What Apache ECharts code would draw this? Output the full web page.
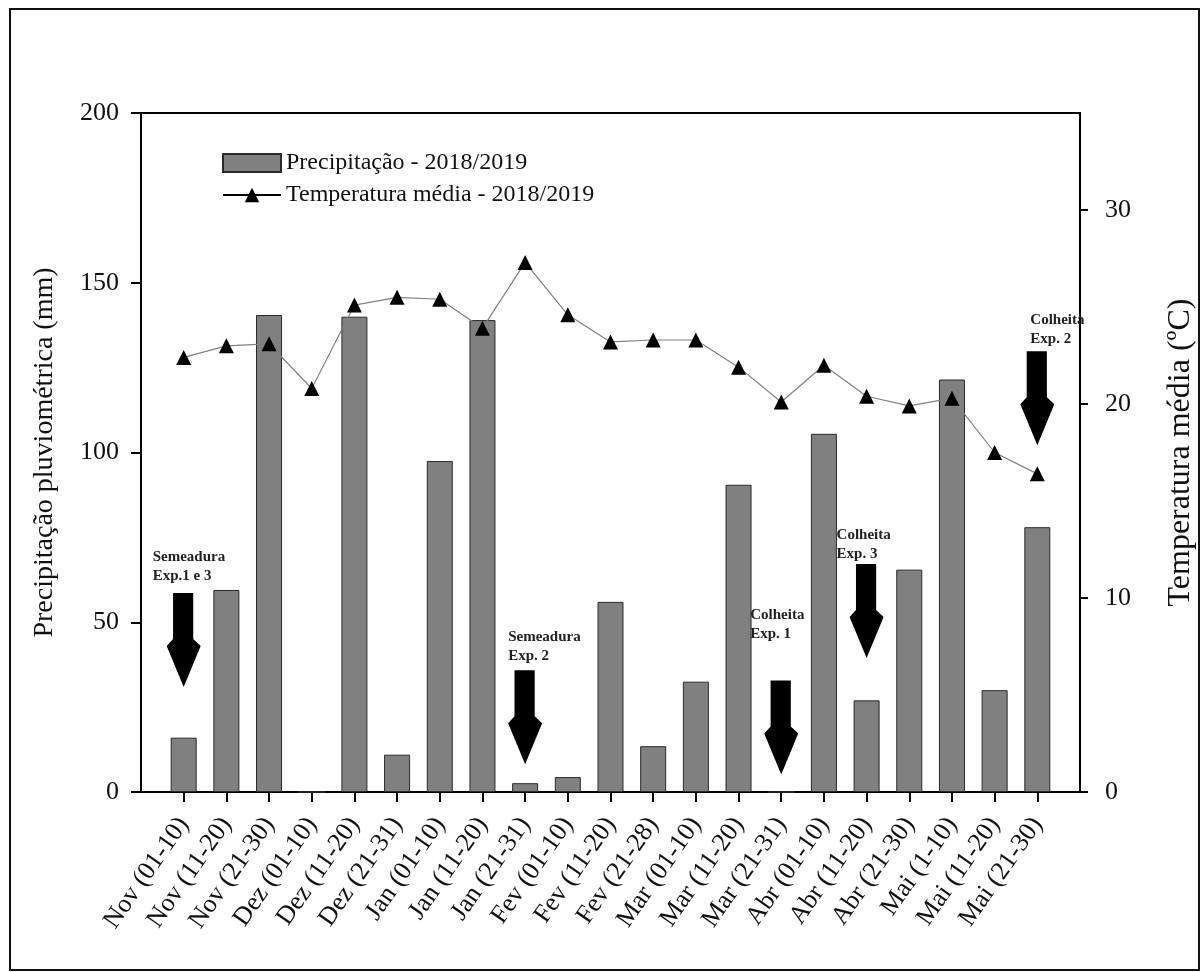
<!DOCTYPE html>
<html>
<head>
<meta charset="utf-8">
<script src="https://cdn.jsdelivr.net/npm/echarts@6/dist/echarts.min.js"></script>
<style>
html,body{margin:0;padding:0;background:#fff;}
#c{width:1201px;height:972px;}
</style>
</head>
<body>
<div id="c"></div>
<script>
const categories = ['Nov (01-10)','Nov (11-20)','Nov (21-30)','Dez (01-10)','Dez (11-20)','Dez (21-31)','Jan (01-10)','Jan (11-20)','Jan (21-31)','Fev (01-10)','Fev (11-20)','Fev (21-28)','Mar (01-10)','Mar (11-20)','Mar (21-31)','Abr (01-10)','Abr (11-20)','Abr (21-30)','Mai (1-10)','Mai (11-20)','Mai (21-30)'];
const precipitacao = [16, 59.5, 140.5, 0, 140, 11, 97.5, 139, 2.6, 4.4, 56, 13.5, 32.5, 90.5, 0, 105.5, 27, 65.5, 121.5, 30, 78];
const temperatura = [22.4, 23.0, 23.1, 20.8, 25.1, 25.5, 25.4, 23.9, 27.3, 24.6, 23.2, 23.3, 23.3, 21.9, 20.1, 22.0, 20.4, 19.9, 20.3, 17.5, 16.4];
const precipTicks = [0, 50, 100, 150, 200];
const tempTicks = [0, 10, 20, 30];
const annotCategory = ['Nov (01-10)', 'Jan (21-31)', 'Mar (21-31)', 'Abr (11-20)', 'Mai (21-30)'];
const annotText = ['Semeadura\nExp.1 e 3', 'Semeadura\nExp. 2', 'Colheita\nExp. 1', 'Colheita\nExp. 3', 'Colheita\nExp. 2'];
const annotLevel = [44.8, 22, 19, 53.3, 116];
const annotLabelPos = [[-14, -45], [0, -43], [-14, -75], [-13, -38], [10, -41]];

const axisCats = [''].concat(categories, ['']);
const precipData = [null].concat(precipitacao, [null]);
const tempData = [null].concat(temperatura, [null]);
const serif = 'Liberation Serif';
const arrowPath = 'path://M7,0 L26,0 L26,46 L33,53 L17,94 L1,53 L7,46 Z';

const chart = echarts.init(document.getElementById('c'));
chart.setOption({
  animation: false,
  backgroundColor: '#fff',
  textStyle: { fontFamily: serif },
  graphic: [{
    type: 'rect', shape: { x: 10, y: 9, width: 1189, height: 961 },
    style: { fill: 'none', stroke: '#111', lineWidth: 2 }, silent: true
  }],
  grid: { left: 141, right: 121, top: 113, bottom: 180, containLabel: false, outerBoundsMode: 'none', show: true, borderColor: '#000', borderWidth: 2, backgroundColor: 'transparent' },
  legend: {
    orient: 'vertical', left: 222, top: 151, padding: 0, itemWidth: 58, itemHeight: 18, itemGap: 8,
    textStyle: { fontFamily: serif, fontSize: 24, color: '#111' },
    data: [
      { name: 'Precipitação - 2018/2019', icon: 'rect' },
      { name: 'Temperatura média - 2018/2019', itemStyle: { color: '#000' }, lineStyle: { color: '#000', width: 2 } }
    ]
  },
  xAxis: {
    type: 'category', data: axisCats, boundaryGap: false,
    axisLine: { lineStyle: { color: '#000', width: 2 } },
    axisTick: { show: true, length: 10, lineStyle: { color: '#000', width: 2 }, interval: function (i, v) { return v !== ''; } },
    axisLabel: { interval: 0, rotate: 55, fontFamily: serif, fontSize: 26, color: '#111', margin: 28 },
    splitLine: { show: false }
  },
  yAxis: [{
    type: 'value', min: 0, max: 200, interval: 50, position: 'left',
    name: 'Precipitação pluviométrica (mm)', nameLocation: 'middle', nameGap: 82, nameRotate: 90,
    nameTextStyle: { fontFamily: serif, fontSize: 28, color: '#111' },
    axisLine: { show: true, lineStyle: { color: '#000', width: 2 } },
    axisTick: { show: true, length: 10, lineStyle: { color: '#000', width: 2 } },
    axisLabel: { fontFamily: serif, fontSize: 26, color: '#111', margin: 22, customValues: precipTicks },
    splitLine: { show: false }
  }, {
    type: 'value', min: 0, max: 35, interval: 10, position: 'right',
    name: 'Temperatura média (ºC)', nameLocation: 'middle', nameGap: 85, nameRotate: 90,
    nameTextStyle: { fontFamily: serif, fontSize: 32, color: '#111' },
    axisLine: { show: true, lineStyle: { color: '#000', width: 2 } },
    axisTick: { show: true, length: 8, lineStyle: { color: '#000', width: 2 }, customValues: tempTicks },
    axisLabel: { fontFamily: serif, fontSize: 26, color: '#111', margin: 25, customValues: tempTicks },
    splitLine: { show: false }
  }],
  series: [{
    name: 'Precipitação - 2018/2019', type: 'bar', yAxisIndex: 0, data: precipData, barWidth: 26,
    itemStyle: { color: '#808080', borderColor: '#2a2a2a', borderWidth: 1 },
    markPoint: {
      symbol: arrowPath, symbolSize: [34, 94], symbolKeepAspect: false,
      itemStyle: { color: '#000' },
      label: { show: true, fontFamily: serif, fontWeight: 'bold', fontSize: 15, lineHeight: 19, color: '#222', align: 'left', verticalAlign: 'top' },
      data: annotCategory.map(function (c, i) {
        return { coord: [c, annotLevel[i]], label: { formatter: annotText[i], position: annotLabelPos[i] } };
      })
    }
  }, {
    name: 'Temperatura média - 2018/2019', type: 'line', yAxisIndex: 1, data: tempData,
    symbol: 'triangle', symbolSize: 15, showAllSymbol: true,
    lineStyle: { color: '#808080', width: 1.2 },
    itemStyle: { color: '#000' }
  }]
});
</script>
</body>
</html>
